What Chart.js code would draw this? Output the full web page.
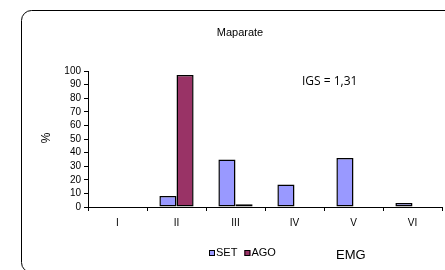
<!DOCTYPE html>
<html>
<head>
<meta charset="utf-8">
<script src="https://cdn.jsdelivr.net/npm/chart.js@4"></script>
<style>
    html, body { margin: 0; padding: 0; background: #fff; }
    #wrap { width: 445px; height: 270px; }
</style>
</head>
<body>
<div id="wrap"><canvas id="chart" width="445" height="270"></canvas></div>
<script>
// EMG stages
const categories = ['I', 'II', 'III', 'IV', 'V', 'VI'];
const setValues = [0, 8, 35, 16.5, 36, 3];
const agoValues = [0, 97, 2, 0, 0, 0];
const yTicks = [0, 10, 20, 30, 40, 50, 60, 70, 80, 90, 100];

const FONT = 'Liberation Sans, Arial, sans-serif';

// Frame, title, annotations and legend
const decorPlugin = {
    id: 'decor',
    afterDraw(chart) {
        const ctx = chart.ctx;
        ctx.save();

        // rounded frame
        ctx.strokeStyle = '#000';
        ctx.lineWidth = 1;
        ctx.beginPath();
        ctx.roundRect(21.5, 10.5, 440, 262, 10);
        ctx.stroke();

        ctx.fillStyle = '#000';
        ctx.textBaseline = 'middle';

        // title
        ctx.font = '11px ' + FONT;
        ctx.textAlign = 'center';
        ctx.fillText('Maparate', 240, 33);

        // y axis title
        ctx.save();
        ctx.translate(47, 138);
        ctx.rotate(-Math.PI / 2);
        ctx.font = '12px ' + FONT;
        ctx.fillText('%', 0, 0);
        ctx.restore();

        // index
        ctx.font = '12px "Open Sans", sans-serif';
        ctx.textAlign = 'left';
        ctx.fillText('IGS = 1,31', 302, 82);

        // x axis title
        ctx.font = '13px ' + FONT;
        ctx.fillText('EMG', 336, 255);

        // legend
        let x = 209;
        ctx.font = '11px ' + FONT;
        chart.data.datasets.forEach(ds => {
            ctx.fillStyle = ds.backgroundColor;
            ctx.fillRect(x, 250, 6, 6);
            ctx.strokeStyle = '#000';
            ctx.strokeRect(x + 0.5, 250.5, 5, 5);
            ctx.fillStyle = '#000';
            ctx.fillText(ds.label, x + 7, 253);
            x += 7 + ctx.measureText(ds.label).width + 7;
        });

        ctx.restore();
    }
};

new Chart(document.getElementById('chart').getContext('2d'), {
    type: 'bar',
    data: {
        labels: categories,
        datasets: [
            {
                label: 'SET',
                data: setValues,
                backgroundColor: '#9999FF',
                borderColor: '#000',
                borderWidth: 1.5,
                borderSkipped: false,
                categoryPercentage: 0.58,
                barPercentage: 1
            },
            {
                label: 'AGO',
                data: agoValues,
                backgroundColor: '#993366',
                borderColor: '#000',
                borderWidth: 1.5,
                borderSkipped: false,
                categoryPercentage: 0.58,
                barPercentage: 1
            }
        ]
    },
    options: {
        responsive: false,
        animation: false,
        layout: { padding: { top: 71, right: 3, left: 0, bottom: 0 } },
        plugins: {
            legend: { display: false },
            tooltip: { enabled: false }
        },
        scales: {
            x: {
                afterFit: s => { s.height = 63; },
                grid: { drawOnChartArea: false, drawTicks: true, tickLength: 4, color: '#000', offset: true },
                border: { display: true, color: '#000' },
                ticks: { color: '#000', font: { size: 10, family: FONT }, padding: 6 }
            },
            y: {
                min: 0,
                max: 100,
                afterFit: s => { s.width = 88; },
                afterBuildTicks: s => { s.ticks = yTicks.map(v => ({ value: v })); },
                grid: { drawOnChartArea: false, drawTicks: true, tickLength: 4, color: '#000' },
                border: { display: true, color: '#000' },
                ticks: { color: '#000', autoSkip: false, font: { size: 10, family: FONT }, padding: 3 }
            }
        }
    },
    plugins: [decorPlugin]
});
</script>
</body>
</html>
